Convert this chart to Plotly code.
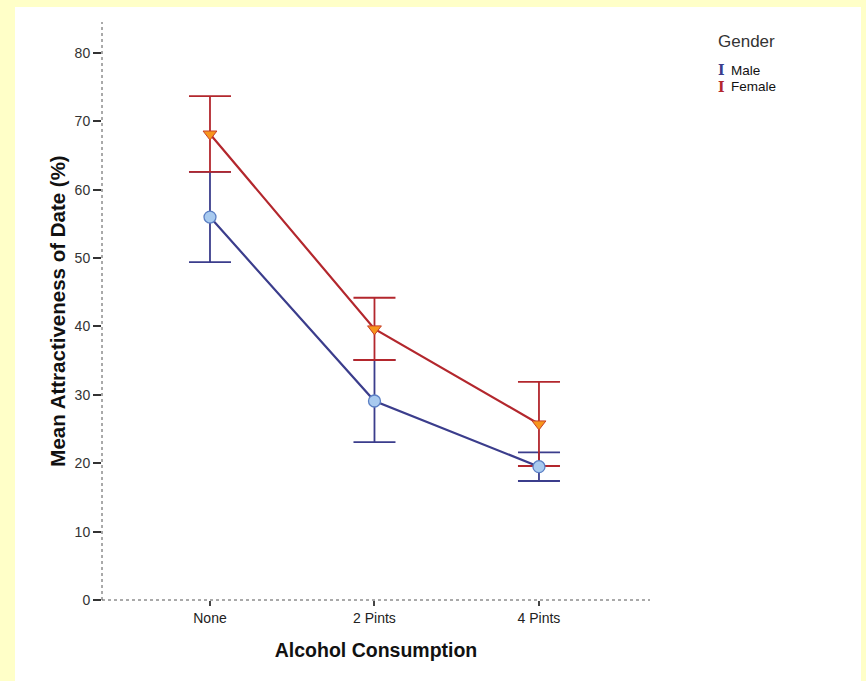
import plotly.graph_objects as go

categories = ["None", "2 Pints", "4 Pints"]
male_mean = [56.0, 29.1, 19.5]
male_err = [6.6, 6.0, 2.1]
female_mean = [68.15, 39.65, 25.75]
female_err = [5.55, 4.55, 6.15]
y_ticks = [0, 10, 20, 30, 40, 50, 60, 70, 80]

x = list(range(len(categories)))
BLUE = "#3b3d8c"
RED = "#b3272d"
FONT = "Liberation Sans, Arial, sans-serif"

fig = go.Figure()

# error bars first (below lines/markers)
fig.add_trace(go.Scatter(
    x=x, y=male_mean, mode="markers", marker=dict(size=0.1, opacity=0),
    error_y=dict(type="data", array=male_err, color=BLUE, thickness=1.8, width=21),
    showlegend=False, hoverinfo="skip"))
fig.add_trace(go.Scatter(
    x=x, y=female_mean, mode="markers", marker=dict(size=0.1, opacity=0),
    error_y=dict(type="data", array=female_err, color=RED, thickness=1.8, width=21),
    showlegend=False, hoverinfo="skip"))

fig.add_trace(go.Scatter(
    x=x, y=male_mean, mode="lines+markers", name="Male",
    line=dict(color=BLUE, width=2.2),
    marker=dict(symbol="circle", size=12, color="#a8caef", line=dict(color="#5b7fc4", width=1.3)),
    showlegend=False))
fig.add_trace(go.Scatter(
    x=x, y=female_mean, mode="lines+markers", name="Female",
    line=dict(color=RED, width=2.2),
    marker=dict(symbol="triangle-down", size=12, color="#f7961c", line=dict(color="#c8402a", width=1)),
    showlegend=False))

# dashed axis lines
fig.add_shape(type="line", xref="paper", yref="paper", x0=0, x1=0, y0=0, y1=1,
              line=dict(color="#555555", width=1, dash="3px,3px"))
fig.add_shape(type="line", xref="paper", yref="paper", x0=0, x1=1, y0=0, y1=0,
              line=dict(color="#555555", width=1, dash="3px,3px"))
# white inner panel
fig.add_shape(type="rect", xref="paper", yref="paper", layer="below",
              x0=(15 - 102) / 548, x1=(861 - 102) / 548,
              y0=(600 - 690) / 578, y1=(600 - 7) / 578,
              fillcolor="white", line=dict(width=0))

# legend as annotations
fig.add_annotation(xref="paper", yref="paper", x=(716 - 102) / 548, y=(600 - 42) / 578,
                   text="Gender", showarrow=False, xanchor="left", yanchor="middle",
                   font=dict(family=FONT, size=17, color="#333333"))
for i, (name, col) in enumerate([("Male", BLUE), ("Female", RED)]):
    yy = (600 - (70 + 17 * i)) / 578
    fig.add_annotation(xref="paper", yref="paper", x=(716 - 102) / 548, y=yy,
                       text="<b>I</b>", showarrow=False, xanchor="left", yanchor="middle",
                       font=dict(family="DejaVu Serif, serif", size=14, color=col))
    fig.add_annotation(xref="paper", yref="paper", x=(729 - 102) / 548, y=yy,
                       text=name, showarrow=False, xanchor="left", yanchor="middle",
                       font=dict(family=FONT, size=13.5, color="#111111"))

fig.update_layout(
    width=866, height=681,
    margin=dict(l=102, r=216, t=22, b=81),
    paper_bgcolor="#ffffc8",
    plot_bgcolor="white",
    font=dict(family=FONT, color="#222222"),
    xaxis=dict(
        range=[-0.6565, 2.675], tickvals=x, ticktext=categories,
        showgrid=False, zeroline=False, showline=False,
        ticks="outside", ticklen=5, tickcolor="#444444", tickwidth=1.5,
        tickfont=dict(family=FONT, size=14, color="#222222"),
        title=dict(text="<b>Alcohol Consumption</b>", font=dict(family=FONT, size=19.5, color="#111111"), standoff=18),
    ),
    yaxis=dict(
        range=[0, 84.53], tickvals=y_ticks,
        showgrid=False, zeroline=False, showline=False,
        ticks="outside", ticklen=8, tickcolor="#333333", tickwidth=1.5,
        tickfont=dict(family=FONT, size=14, color="#333333"),
        title=dict(text="<b>Mean Attractiveness of Date (%)</b>", font=dict(family=FONT, size=20.5, color="#111111"), standoff=3),
    ),
)

fig.write_html("out.html")
